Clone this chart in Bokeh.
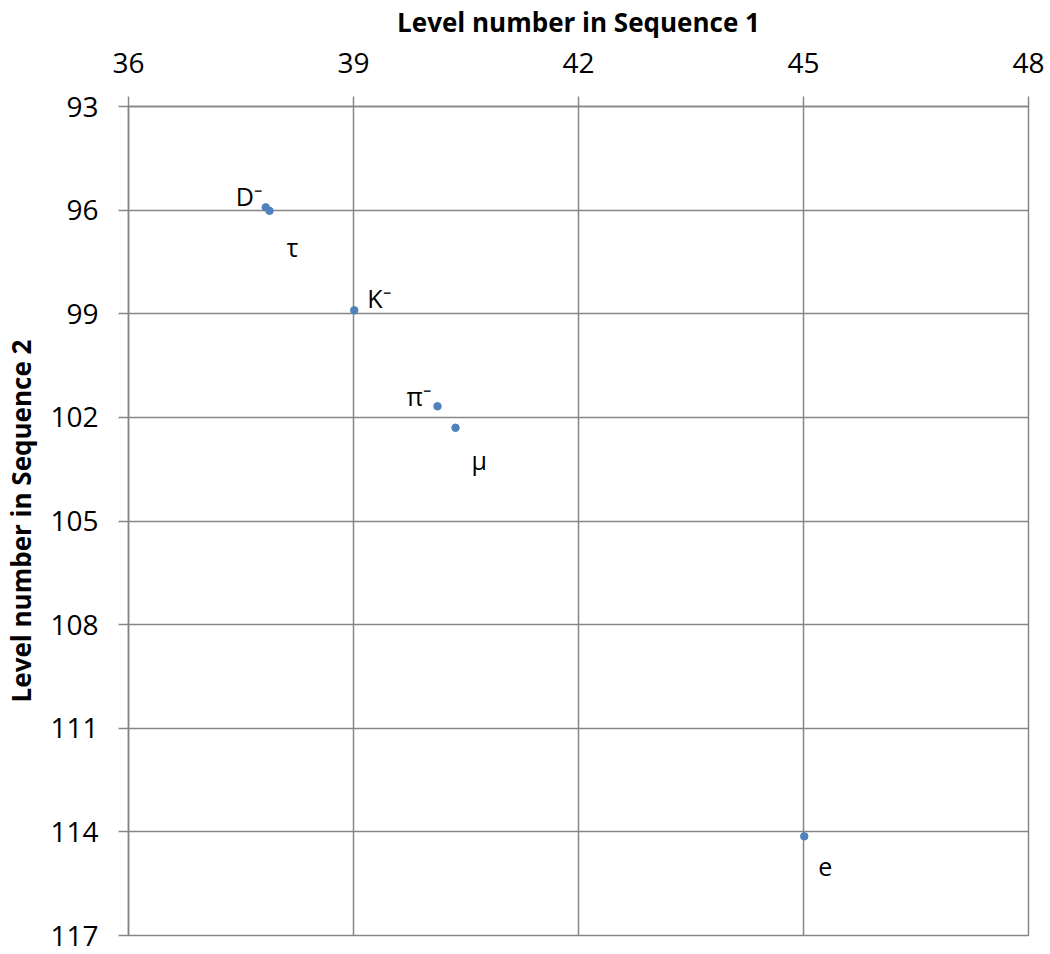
from bokeh.plotting import figure
from bokeh.models import Range1d, FixedTicker, ColumnDataSource
from bokeh.core.properties import value
from bokeh.embed import file_html
from bokeh.resources import INLINE

# ---- data ----
names = ["D\u207B", "\u03C4", "K\u207B", "\u03C0\u207B", "\u03BC", "e"]
seq1 = [37.83, 37.88, 39.01, 40.12, 40.36, 45.01]
seq2 = [95.92, 96.02, 98.90, 101.68, 102.30, 114.13]
x_ticks = [36, 39, 42, 45, 48]
y_ticks = [93, 96, 99, 102, 105, 108, 111, 114, 117]

# label offsets (pixels) relative to each point
lab_dx = [-30, 17, 13, -31, 16, 14]
lab_dy = [-11, 36, -12, -10, 32, 31]

GRID = "#868686"
FONT = "Open Sans"

p = figure(
    output_backend="svg", toolbar_location=None,
    frame_width=900, frame_height=829,
    min_border_left=120, min_border_top=104, min_border_right=22, min_border_bottom=21,
    x_range=Range1d(36, 48), y_range=Range1d(117, 93),
    x_axis_location="above",
)
p.background_fill_color = "white"
p.border_fill_color = "white"
p.outline_line_color = GRID
p.outline_line_width = 1.5

for ax, ticks, title in [(p.xaxis[0], x_ticks, "Level number in Sequence 1"),
                         (p.yaxis[0], y_ticks, "Level number in Sequence 2")]:
    ax.ticker = FixedTicker(ticks=ticks)
    ax.axis_label = title
    ax.axis_label_text_font = FONT
    ax.axis_label_text_font_style = "bold"
    ax.axis_label_text_font_size = "26px"
    ax.axis_label_text_color = "black"
    ax.major_label_text_font = FONT
    ax.major_label_text_font_size = "28px"
    ax.major_label_text_color = "black"
    ax.axis_line_color = GRID
    ax.axis_line_width = 1.5
    ax.major_tick_line_color = GRID
    ax.major_tick_line_width = 1.5
    ax.major_tick_out = 10
    ax.major_tick_in = 0
    ax.minor_tick_line_color = None

p.xaxis.major_label_standoff = 24
p.xaxis.axis_label_standoff = 10
p.yaxis.major_label_standoff = 20
p.yaxis.axis_label_standoff = 8

for g, ticks in [(p.xgrid[0], x_ticks), (p.ygrid[0], y_ticks)]:
    g.ticker = FixedTicker(ticks=ticks)
    g.grid_line_color = GRID
    g.grid_line_width = 1.5

src = ColumnDataSource(dict(x=seq1, y=seq2, name=names, dx=lab_dx, dy=lab_dy))
p.scatter("x", "y", source=src, size=7.5, color="#4F81BD", line_color="#4F81BD")
p.text("x", "y", text="name", source=src, x_offset="dx", y_offset="dy",
       text_font=value(FONT), text_font_size="25px", text_color="black",
       text_baseline="alphabetic", text_align="left")

open("out.html", "w").write(file_html(p, INLINE))
